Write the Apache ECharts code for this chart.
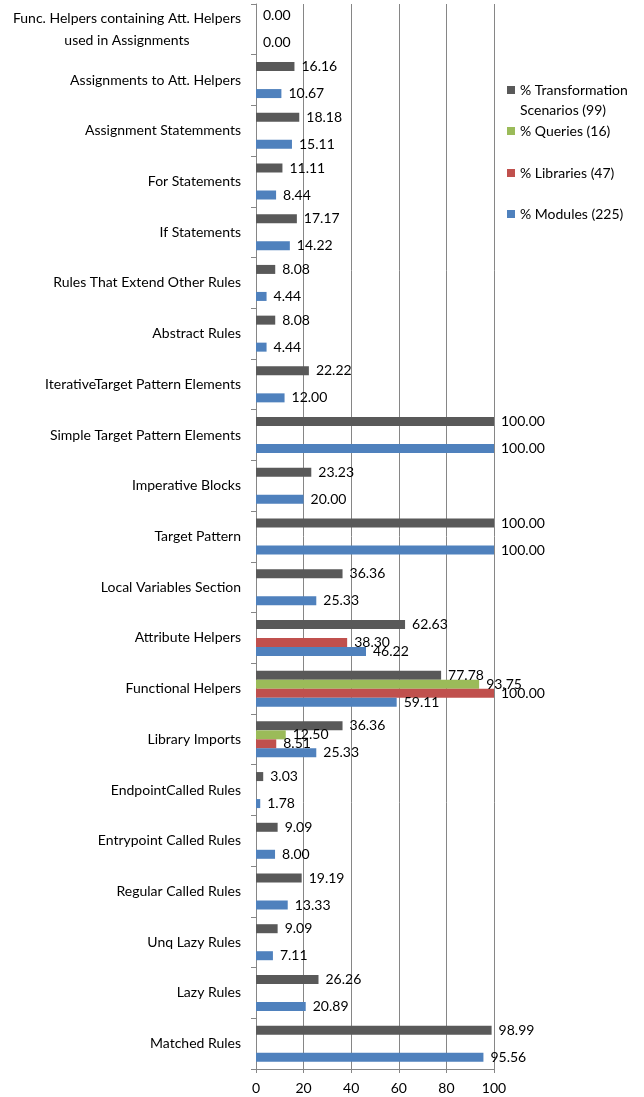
<!DOCTYPE html>
<html>
<head>
<meta charset="utf-8">
<script src="https://cdn.jsdelivr.net/npm/echarts@6/dist/echarts.min.js"></script>
<style>
  html, body { margin: 0; padding: 0; background: #fff; }
  #chart { width: 644px; height: 1097px; }
</style>
</head>
<body>
<div id="chart"></div>
<script>
const categories = [
  'Func. Helpers containing Att. Helpers\nused in Assignments',
  'Assignments to Att. Helpers',
  'Assignment Statemments',
  'For Statements',
  'If Statements',
  'Rules That Extend Other Rules',
  'Abstract Rules',
  'IterativeTarget Pattern Elements',
  'Simple Target Pattern Elements',
  'Imperative Blocks',
  'Target Pattern',
  'Local Variables Section',
  'Attribute Helpers',
  'Functional Helpers',
  'Library Imports',
  'EndpointCalled Rules',
  'Entrypoint Called Rules',
  'Regular Called Rules',
  'Unq Lazy Rules',
  'Lazy Rules',
  'Matched Rules',
];

const transformationScenarios = [0, 16.16, 18.18, 11.11, 17.17, 8.08, 8.08, 22.22, 100, 23.23, 100, 36.36, 62.63, 77.78, 36.36, 3.03, 9.09, 19.19, 9.09, 26.26, 98.99];
const queries = [null, null, null, null, null, null, null, null, null, null, null, null, null, 93.75, 12.5, null, null, null, null, null, null];
const libraries = [null, null, null, null, null, null, null, null, null, null, null, null, 38.3, 100, 8.51, null, null, null, null, null, null];
const modules = [0, 10.67, 15.11, 8.44, 14.22, 4.44, 4.44, 12, 100, 20, 100, 25.33, 46.22, 59.11, 25.33, 1.78, 8, 13.33, 7.11, 20.89, 95.56];

const xTicks = { min: 0, max: 100, interval: 20 };

const seriesNames = ['% Transformation Scenarios (99)', '% Queries (16)', '% Libraries (47)', '% Modules (225)'];
const seriesColors = ['#595959', '#9BBB59', '#C0504D', '#4F81BD'];
const seriesData = [transformationScenarios, queries, libraries, modules];

const font = 'Lato, "Open Sans", sans-serif';
const fontSize = 14;
const axisGray = '#868686';

const chart = echarts.init(document.getElementById('chart'));

function makeLegend(index, top, extra) {
  return Object.assign({
    orient: 'vertical',
    left: 507,
    top,
    padding: 0,
    itemWidth: 8,
    itemHeight: 8,
    icon: 'rect',
    selectedMode: false,
    data: [seriesNames[index]],
    textStyle: { fontFamily: font, fontSize, color: '#000' },
  }, extra || {});
}

chart.setOption({
  animation: false,
  backgroundColor: '#fff',
  grid: { left: 256, right: 150, top: 4, bottom: 28 },
  legend: [
    // empty first line keeps the icon level with "% Transformation"
    makeLegend(0, 60, {
      formatter: () => '\n% Transformation\nScenarios (99)',
      textStyle: { fontFamily: font, fontSize, color: '#000', lineHeight: 20 },
    }),
    makeLegend(1, 124),
    makeLegend(2, 166),
    makeLegend(3, 207),
  ],
  xAxis: {
    type: 'value',
    min: xTicks.min,
    max: xTicks.max,
    interval: xTicks.interval,
    axisLine: { show: true, lineStyle: { color: axisGray } },
    axisTick: { show: true, length: 4, lineStyle: { color: axisGray } },
    axisLabel: { color: '#000', fontFamily: font, fontSize, margin: 12 },
    splitLine: { show: true, lineStyle: { color: axisGray, width: 1 } },
  },
  yAxis: {
    type: 'category',
    inverse: true,
    data: categories,
    axisLine: { show: true, lineStyle: { color: axisGray } },
    axisTick: { show: true, length: 5, lineStyle: { color: axisGray } },
    axisLabel: {
      color: '#000',
      fontFamily: font,
      fontSize,
      margin: 15,
      lineHeight: 22,
      formatter: (value) => value.indexOf('\n') >= 0
        ? value.split('\n').map((line) => '{c|' + line + '}').join('\n')
        : value,
      rich: {
        c: { align: 'center', fontFamily: font, fontSize, color: '#000', lineHeight: 22 },
      },
    },
  },
  series: seriesNames.map((name, i) => ({
    name,
    type: 'bar',
    data: seriesData[i],
    barGap: '0%',
    barCategoryGap: '29%',
    itemStyle: { color: seriesColors[i] },
    label: {
      show: true,
      position: 'right',
      distance: 7,
      color: '#000',
      fontFamily: font,
      fontSize,
      formatter: ({ value }) => (value == null ? '' : Number(value).toFixed(2)),
    },
  })),
});
</script>
</body>
</html>
